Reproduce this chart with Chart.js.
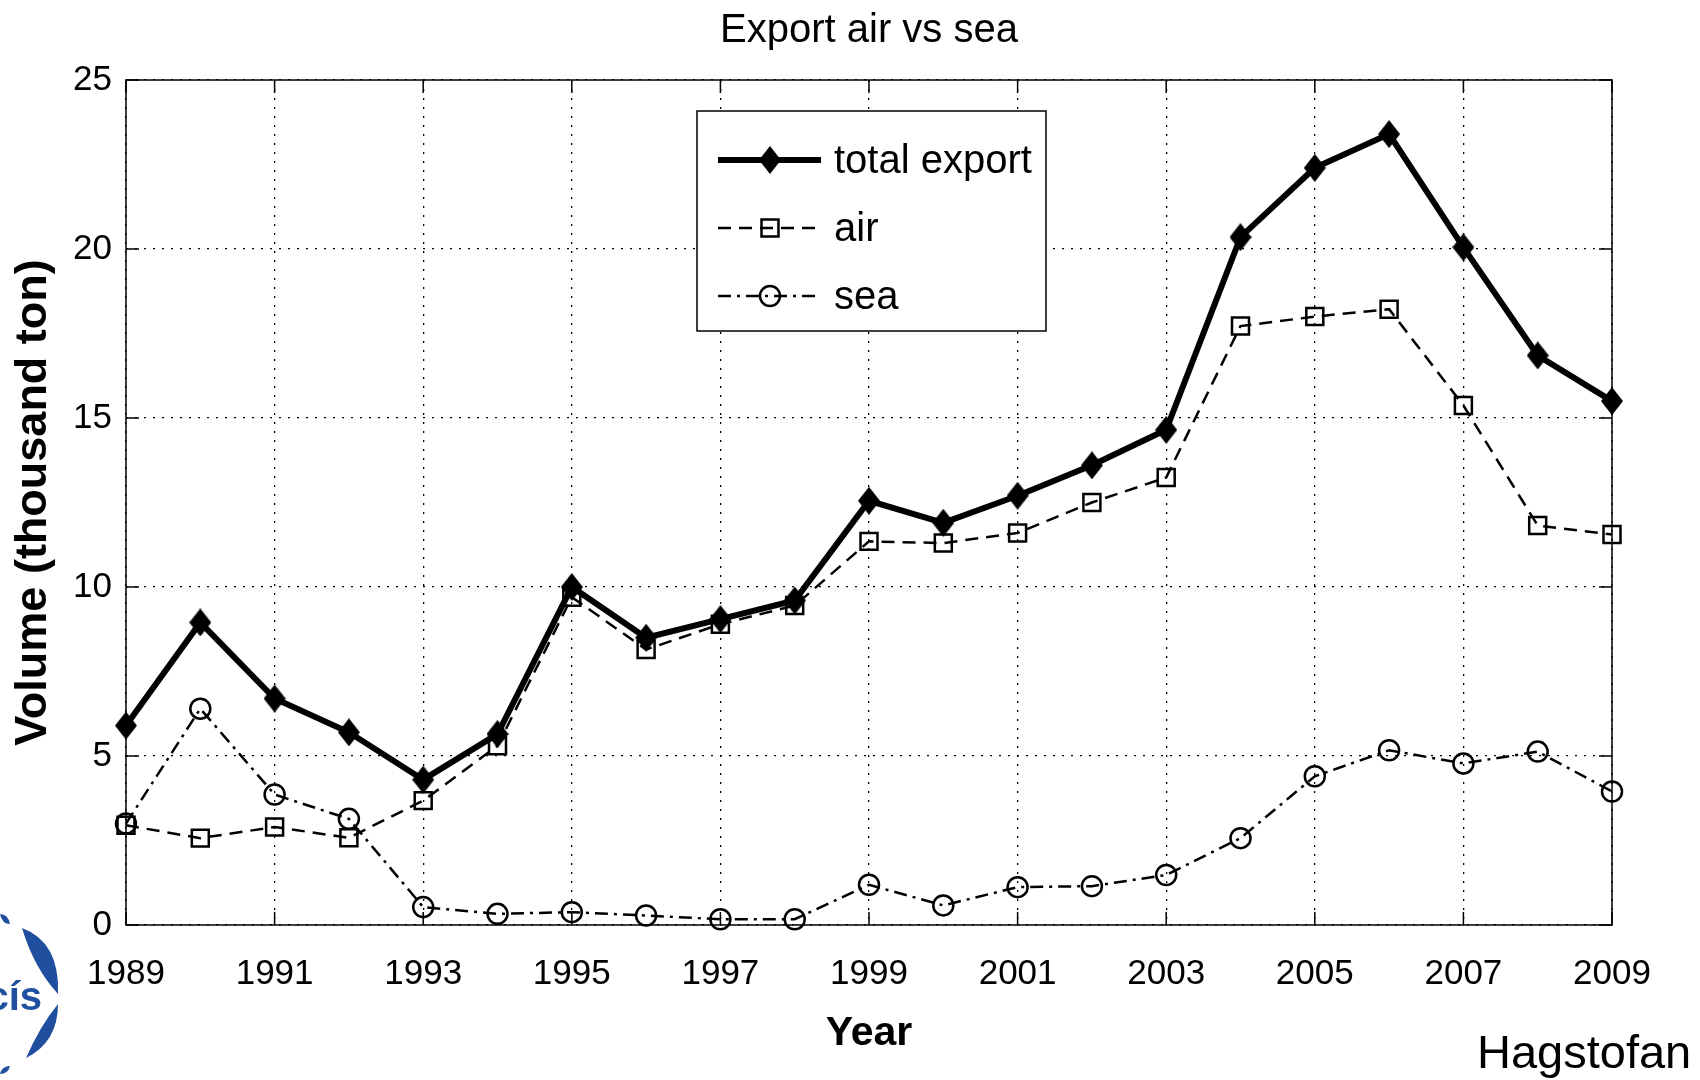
<!DOCTYPE html>
<html>
<head>
<meta charset="utf-8">
<script src="https://cdn.jsdelivr.net/npm/chart.js@4.4.1/dist/chart.umd.min.js"></script>
<style>
  html, body { margin: 0; padding: 0; background: #fff; }
  #wrap { width: 1700px; height: 1080px; position: relative; }
</style>
</head>
<body>
<div id="wrap"><canvas id="chart" width="1700" height="1080"></canvas></div>
<script>
const FONT = "'Liberation Sans', Arial, sans-serif";

// data (thousand ton)
const years = [1989, 1990, 1991, 1992, 1993, 1994, 1995, 1996, 1997, 1998, 1999,
               2000, 2001, 2002, 2003, 2004, 2005, 2006, 2007, 2008, 2009];
const totalExport = [5.9, 8.95, 6.7, 5.7, 4.3, 5.65, 10.0, 8.5, 9.05, 9.6, 12.55,
                     11.9, 12.7, 13.6, 14.65, 20.35, 22.4, 23.4, 20.05, 16.85, 15.5];
const airExport = [2.95, 2.57, 2.9, 2.58, 3.68, 5.3, 9.7, 8.15, 8.9, 9.45, 11.35,
                   11.3, 11.6, 12.5, 13.24, 17.72, 18.0, 18.22, 15.37, 11.82, 11.55];
const seaExport = [3.0, 6.4, 3.86, 3.14, 0.53, 0.33, 0.38, 0.28, 0.17, 0.17, 1.19,
                   0.58, 1.12, 1.15, 1.48, 2.57, 4.4, 5.17, 4.78, 5.13, 3.95];
const seriesNames = ['total export', 'air', 'sea'];
const xTicks = [1989, 1991, 1993, 1995, 1997, 1999, 2001, 2003, 2005, 2007, 2009];
const yTicks = [0, 5, 10, 15, 20, 25];

const toPoints = (vals) => vals.map((v, i) => ({ x: years[i], y: v }));

// tall matlab-like diamond marker
function makeDiamond(w, h) {
  const c = document.createElement('canvas');
  c.width = w; c.height = h;
  const g = c.getContext('2d');
  g.fillStyle = '#000';
  g.beginPath();
  g.moveTo(w / 2, 0); g.lineTo(w, h / 2); g.lineTo(w / 2, h); g.lineTo(0, h / 2);
  g.closePath();
  g.fill();
  return c;
}
const diamond = makeDiamond(22, 28);

// box, inward ticks, title, legend and the logo / credit text
const framePlugin = {
  id: 'frame',
  afterDraw(chart) {
    const { ctx, chartArea: a, scales } = chart;
    ctx.save();
    ctx.strokeStyle = '#000';
    ctx.lineWidth = 1.5;
    ctx.setLineDash([]);
    ctx.strokeRect(a.left, a.top, a.right - a.left, a.bottom - a.top);

    const tl = 13;
    ctx.beginPath();
    xTicks.forEach(v => {
      const px = scales.x.getPixelForValue(v);
      ctx.moveTo(px, a.bottom); ctx.lineTo(px, a.bottom - tl);
      ctx.moveTo(px, a.top); ctx.lineTo(px, a.top + tl);
    });
    yTicks.forEach(v => {
      const py = scales.y.getPixelForValue(v);
      ctx.moveTo(a.left, py); ctx.lineTo(a.left + tl, py);
      ctx.moveTo(a.right, py); ctx.lineTo(a.right - tl, py);
    });
    ctx.stroke();

    // title over the plot area
    ctx.fillStyle = '#000';
    ctx.font = '40px ' + FONT;
    ctx.textAlign = 'center';
    ctx.textBaseline = 'middle';
    ctx.fillText('Export air vs sea', (a.left + a.right) / 2, 31);

    // legend
    const lx = 697, ly = 111, lw = 349, lh = 220;
    ctx.fillStyle = '#fff';
    ctx.fillRect(lx, ly, lw, lh);
    ctx.lineWidth = 1.5;
    ctx.strokeRect(lx, ly, lw, lh);
    const rows = [160, 228, 296];
    chart.data.datasets.forEach((ds, i) => {
      const y = rows[i];
      ctx.save();
      ctx.strokeStyle = ds.borderColor;
      ctx.lineWidth = ds.borderWidth;
      ctx.setLineDash(ds.borderDash || []);
      ctx.beginPath();
      ctx.moveTo(718, y); ctx.lineTo(821, y);
      ctx.stroke();
      ctx.setLineDash([]);
      ctx.fillStyle = ds.pointBackgroundColor;
      ctx.strokeStyle = ds.pointBorderColor;
      ctx.lineWidth = ds.pointBorderWidth;
      Chart.helpers.drawPoint(ctx, {
        pointStyle: ds.pointStyle,
        radius: ds.pointRadius,
        rotation: 0,
        borderWidth: ds.pointBorderWidth
      }, 770, y);
      ctx.restore();
      ctx.fillStyle = '#000';
      ctx.font = '40px ' + FONT;
      ctx.textAlign = 'left';
      ctx.textBaseline = 'middle';
      ctx.fillText(ds.label, 834, y + 2);
    });

    // credit text, bottom right
    ctx.fillStyle = '#000';
    ctx.font = '47px ' + FONT;
    ctx.textAlign = 'left';
    ctx.textBaseline = 'alphabetic';
    ctx.fillText('Hagstofan', 1477, 1068);

    // logo fragment, bottom left
    ctx.fillStyle = '#1f4f9e';
    const lens = (x1, y1, x2, y2, cxo, cyo, cxi, cyi) => {
      ctx.beginPath();
      ctx.moveTo(x1, y1);
      ctx.quadraticCurveTo(cxo, cyo, x2, y2);
      ctx.quadraticCurveTo(cxi, cyi, x1, y1);
      ctx.fill();
    };
    lens(22, 928, 58, 994, 60, 942, 34, 968);
    lens(58, 1004, 26, 1058, 58, 1042, 40, 1026);
    lens(0, 914, 10, 924, 8, 914, 2, 924);
    lens(0, 1074, 10, 1066, 8, 1074, 2, 1066);
    ctx.font = 'bold 40px ' + FONT;
    ctx.textAlign = 'right';
    ctx.fillText('cís', 42, 1010);
    ctx.restore();
  }
};

new Chart(document.getElementById('chart'), {
  type: 'line',
  data: {
    datasets: [
      {
        label: seriesNames[0],
        data: toPoints(totalExport),
        borderColor: '#000',
        borderWidth: 6,
        pointStyle: diamond,
        pointRadius: 12,
        pointBorderWidth: 3,
        pointBackgroundColor: '#000',
        pointBorderColor: '#000',
        order: 1
      },
      {
        label: seriesNames[1],
        data: toPoints(airExport),
        borderColor: '#000',
        borderWidth: 2.5,
        borderDash: [13, 8],
        pointStyle: 'rect',
        pointRadius: 12,
        pointBorderWidth: 2.5,
        pointBackgroundColor: 'rgba(0,0,0,0)',
        pointBorderColor: '#000',
        order: 2
      },
      {
        label: seriesNames[2],
        data: toPoints(seaExport),
        borderColor: '#000',
        borderWidth: 2.5,
        borderDash: [13, 6, 3, 6],
        pointStyle: 'circle',
        pointRadius: 10,
        pointBorderWidth: 2.5,
        pointBackgroundColor: 'rgba(0,0,0,0)',
        pointBorderColor: '#000',
        order: 3
      }
    ]
  },
  options: {
    responsive: false,
    animation: false,
    clip: false,
    layout: { padding: { left: 0, right: 88, top: 80, bottom: 0 } },
    plugins: {
      legend: { display: false },
      tooltip: { enabled: false },
      title: { display: false }
    },
    scales: {
      x: {
        type: 'linear',
        min: 1989,
        max: 2009,
        afterBuildTicks: (s) => { s.ticks = xTicks.map(v => ({ value: v })); },
        afterFit: (s) => { s.height = 155; },
        ticks: {
          color: '#000',
          font: { family: FONT, size: 35 },
          padding: 28,
          maxRotation: 0,
          autoSkip: false,
          callback: (v) => String(v)
        },
        grid: { color: '#000', lineWidth: 1.3, drawTicks: false },
        border: { display: false, dash: [2, 7] },
        title: {
          display: true,
          text: 'Year',
          color: '#000',
          font: { family: FONT, size: 41, weight: 'bold' },
          padding: { top: 0, bottom: 22 }
        }
      },
      y: {
        min: 0,
        max: 25,
        afterBuildTicks: (s) => { s.ticks = yTicks.map(v => ({ value: v })); },
        afterFit: (s) => { s.width = 126; },
        ticks: {
          color: '#000',
          font: { family: FONT, size: 35 },
          padding: 14
        },
        grid: { color: '#000', lineWidth: 1.3, drawTicks: false },
        border: { display: false, dash: [2, 7] },
        title: {
          display: true,
          text: 'Volume (thousand ton)',
          color: '#000',
          font: { family: FONT, size: 45, weight: 'bold' },
          padding: { top: 7, bottom: 0 }
        }
      }
    }
  },
  plugins: [framePlugin]
});
</script>
</body>
</html>
